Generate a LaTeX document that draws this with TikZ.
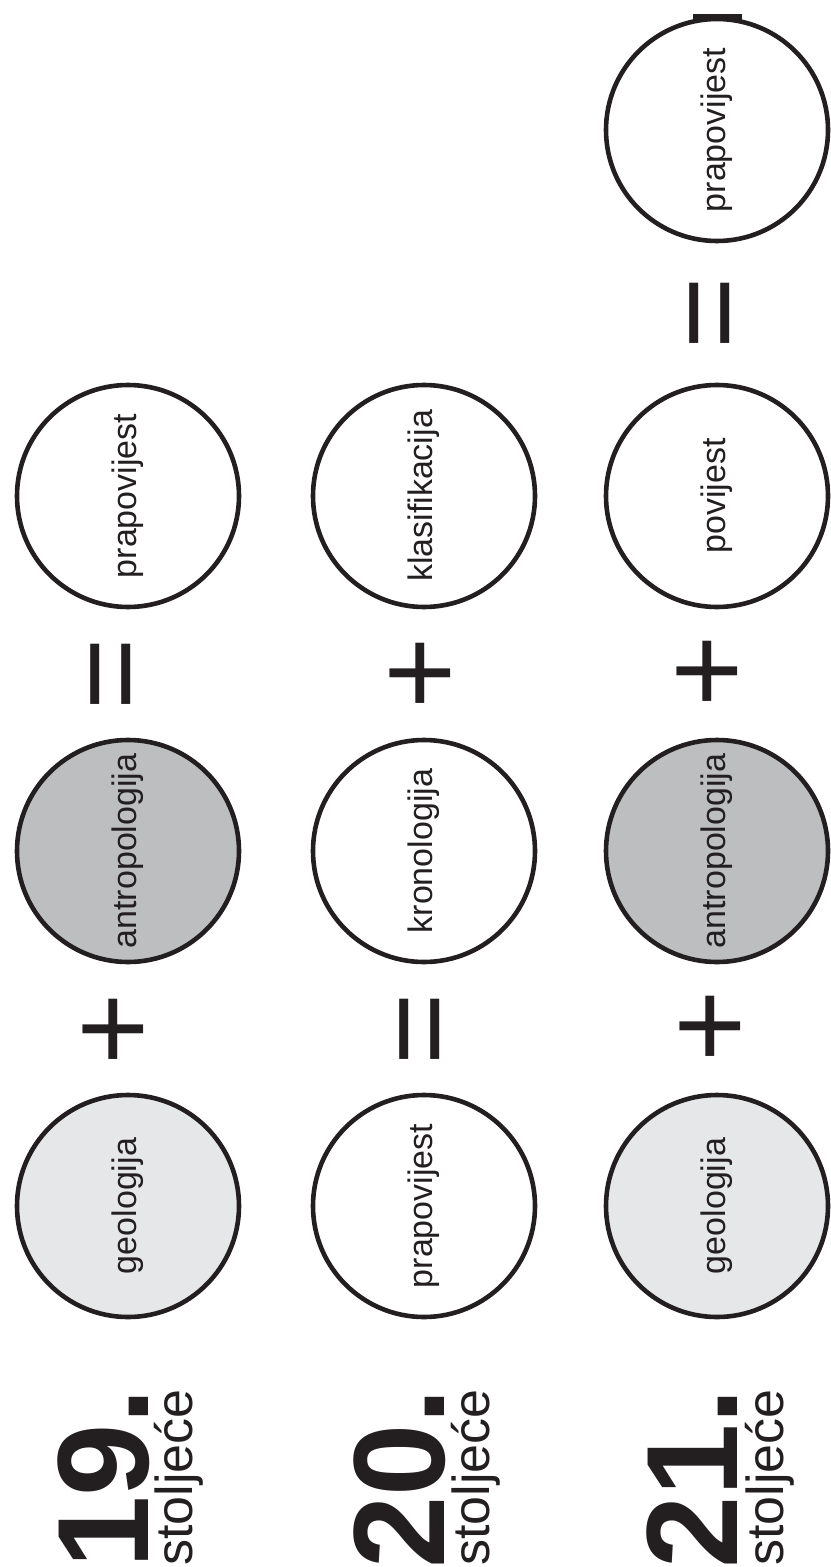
\documentclass[tikz,border=0pt]{standalone}
\usepackage{fontspec}
\setmainfont{Liberation Sans}
\definecolor{ink}{HTML}{231F20}
\definecolor{geogray}{HTML}{E6E7E8}
\definecolor{antrogray}{HTML}{BCBEC0}
\begin{document}
\begin{tikzpicture}[x=0.5pt, y=-0.5pt,
  main/.style = {draw=ink, circle, line width=2.3pt, minimum size=111pt, inner sep=0pt, rotate=90, text=ink, font=\fontsize{17}{20}\selectfont},
  geo/.style = {main, fill=geogray},
  antro/.style = {main, fill=antrogray},
  sign/.style = {rotate=90, inner sep=0pt, text=ink, font=\fontsize{62}{62}\selectfont},
  cent/.style = {rotate=90, anchor=base west, inner sep=0pt, text=ink, font=\fontsize{65}{65}\selectfont\bfseries},
  word/.style = {rotate=90, anchor=base west, inner sep=0pt, text=ink, font=\fontsize{26}{26}\selectfont}]
	\useasboundingbox (0,0) rectangle (830,1567);

	\node[geo] (g19) at (128,1206) {geologija};
	\node[antro] (a19) at (128,851) {antropologija};
	\node[main] (p19) at (128,496) {prapovijest};

	\node[main] (p20) at (424,1206) {prapovijest};
	\node[main] (k20) at (424,851) {kronologija};
	\node[main] (kl20) at (424,496) {klasifikacija};

	\node[geo] (g21) at (717,1206) {geologija};
	\node[antro] (a21) at (717,851) {antropologija};
	\node[main] (pov21) at (717,496) {povijest};
	\node[main] (p21) at (717,130) {prapovijest};

	\node[sign] (plus19a) at (119,1029) {+};
	\node[sign] (eq19) at (121,674) {=};
	\node[sign] (eq20) at (430,1029) {=};
	\node[sign] (plus20) at (426,673) {+};
	\node[sign] (plus21a) at (716,1026) {+};
	\node[sign] (plus21b) at (713,671) {+};
	\node[sign] (eq21) at (720,313) {=};

	\node[cent] (c19) at (148,1569) {19.};
	\node[word] (st19) at (192,1566) {stoljeće};
	\node[cent] (c20) at (444,1569) {20.};
	\node[word] (st20) at (489,1566) {stoljeće};
	\node[cent] (c21) at (737,1569) {21.};
	\node[word] (st21) at (783,1566) {stoljeće};

	\fill[ink] (693,14) rectangle (742,20);

\end{tikzpicture}
\end{document}
